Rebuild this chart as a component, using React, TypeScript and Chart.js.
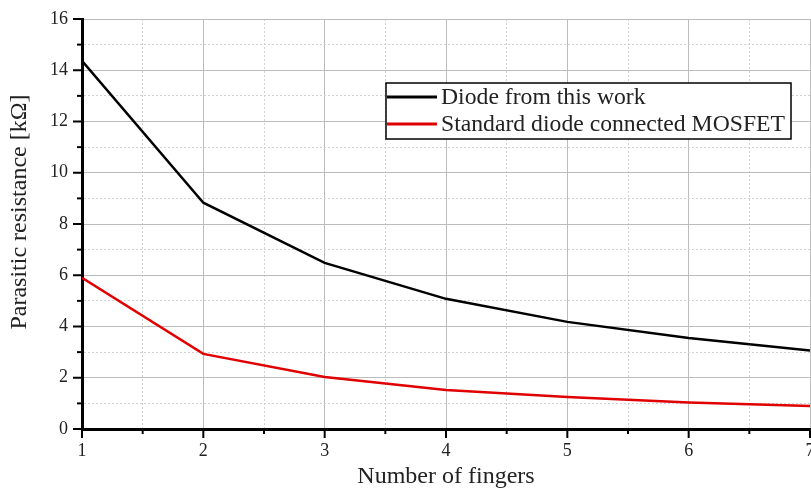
import React, { useEffect, useRef } from 'react';
import { Chart, registerables } from 'chart.js';

Chart.register(...registerables);

// Parasitic resistance versus number of fingers
const fingers = [1, 2, 3, 4, 5, 6, 7];
const diodeThisWork = [14.37, 8.83, 6.48, 5.08, 4.18, 3.55, 3.06];
const diodeMosfet = [5.9, 2.93, 2.03, 1.52, 1.25, 1.03, 0.9];

const seriesLabels = ['Diode from this work', 'Standard diode connected MOSFET'];
const seriesColors = ['#000000', '#e10000'];

const xTickLabels = ['1', '2', '3', '4', '5', '6', '7'];
const yTickLabels = ['0', '2', '4', '6', '8', '10', '12', '14', '16'];
const xMinorStep = 0.5;
const yMinorStep = 1;

const xTitle = 'Number of fingers';
const yTitle = 'Parasitic resistance [kΩ]';

const FONT = '"Liberation Serif", "Times New Roman", serif';

const isMajor = (v: number, labels: string[]) => labels.includes(String(v));

// All tick values (major + minor) between the first and last labelled value
function tickValues(labels: string[], step: number) {
  const nums = labels.map(Number);
  const lo = Math.min(...nums);
  const hi = Math.max(...nums);
  const out: { value: number }[] = [];
  const n = Math.round((hi - lo) / step);
  for (let i = 0; i <= n; i++) out.push({ value: +(lo + i * step).toFixed(6) });
  return out;
}

// Outward tick marks (long for labelled values, short for minor ones) and the y title
const axisDecor = {
  id: 'axisDecor',
  afterDraw(chart: any) {
    const ctx = chart.ctx;
    const area = chart.chartArea;
    ctx.save();
    ctx.strokeStyle = '#000';
    ctx.lineWidth = 2;
    const xs = chart.scales.x;
    xs.ticks.forEach((t: any) => {
      const px = xs.getPixelForValue(t.value);
      const len = isMajor(t.value, xTickLabels) ? 9 : 5;
      ctx.beginPath();
      ctx.moveTo(px, area.bottom);
      ctx.lineTo(px, area.bottom + len);
      ctx.stroke();
    });
    const ys = chart.scales.y;
    ys.ticks.forEach((t: any) => {
      const py = ys.getPixelForValue(t.value);
      const len = isMajor(t.value, yTickLabels) ? 9 : 5;
      ctx.beginPath();
      ctx.moveTo(area.left, py);
      ctx.lineTo(area.left - len, py);
      ctx.stroke();
    });

    ctx.translate(20, 212);
    ctx.rotate(-Math.PI / 2);
    ctx.font = `24px ${FONT}`;
    ctx.fillStyle = '#222';
    ctx.textAlign = 'center';
    ctx.textBaseline = 'middle';
    ctx.fillText(yTitle, 0, 0);
    ctx.restore();
  },
};

// Framed legend box inside the plot area
const boxLegend = {
  id: 'boxLegend',
  afterDatasetsDraw(chart: any) {
    const ctx = chart.ctx;
    const left = 386;
    const top = 83;
    const width = 405;
    const height = 56;
    ctx.save();
    ctx.fillStyle = '#ffffff';
    ctx.fillRect(left, top, width, height);
    ctx.strokeStyle = '#000';
    ctx.lineWidth = 1.5;
    ctx.strokeRect(left, top, width, height);
    ctx.font = `23.7px ${FONT}`;
    ctx.textBaseline = 'middle';
    ctx.textAlign = 'left';
    chart.data.datasets.forEach((ds: any, i: number) => {
      const y = top + 14 + i * 27;
      ctx.strokeStyle = ds.borderColor;
      ctx.lineWidth = 3;
      ctx.beginPath();
      ctx.moveTo(left + 1, y);
      ctx.lineTo(left + 51, y);
      ctx.stroke();
      ctx.fillStyle = '#222';
      ctx.fillText(ds.label, left + 55, y + 1);
    });
    ctx.restore();
  },
};

export default function App() {
  const canvasRef = useRef<HTMLCanvasElement | null>(null);

  useEffect(() => {
    if (!canvasRef.current) return;
    const chart = new Chart(canvasRef.current, {
      type: 'line',
      data: {
        datasets: [
          {
            label: seriesLabels[0],
            data: fingers.map((f, i) => ({ x: f, y: diodeThisWork[i] })),
            borderColor: seriesColors[0],
            borderWidth: 2.5,
            pointRadius: 0,
            tension: 0,
          },
          {
            label: seriesLabels[1],
            data: fingers.map((f, i) => ({ x: f, y: diodeMosfet[i] })),
            borderColor: seriesColors[1],
            borderWidth: 2.5,
            pointRadius: 0,
            tension: 0,
          },
        ],
      },
      options: {
        animation: false,
        responsive: false,
        devicePixelRatio: 1,
        layout: { padding: { top: 19, right: 1, left: 0, bottom: 0 } },
        plugins: {
          legend: { display: false },
          tooltip: { enabled: false },
        },
        scales: {
          x: {
            type: 'linear',
            position: 'bottom',
            min: Number(xTickLabels[0]),
            max: Number(xTickLabels[xTickLabels.length - 1]),
            afterBuildTicks: (s: any) => {
              s.ticks = tickValues(xTickLabels, xMinorStep);
            },
            afterFit: (s: any) => {
              s.height = 62;
              s.paddingLeft = 0;
              s.paddingRight = 0;
            },
            ticks: {
              autoSkip: false,
              maxRotation: 0,
              padding: 11,
              color: '#222',
              font: { family: FONT, size: 18 },
              callback: (v: any) => (isMajor(v, xTickLabels) ? String(v) : ''),
            },
            grid: {
              drawTicks: false,
              color: (c: any) => (c.tick && isMajor(c.tick.value, xTickLabels) ? '#bcbcbc' : '#d2d2d2'),
              lineWidth: 1,
            },
            border: {
              color: '#000',
              width: 3,
              dash: (c: any) => (c.tick && !isMajor(c.tick.value, xTickLabels) ? [2, 2] : []),
            },
            title: {
              display: true,
              text: xTitle,
              color: '#222',
              font: { family: FONT, size: 24 },
              padding: { top: 0, bottom: 0 },
            },
          },
          y: {
            type: 'linear',
            min: Number(yTickLabels[0]),
            max: Number(yTickLabels[yTickLabels.length - 1]),
            afterBuildTicks: (s: any) => {
              s.ticks = tickValues(yTickLabels, yMinorStep);
            },
            afterFit: (s: any) => {
              s.width = 82;
              s.paddingTop = 0;
              s.paddingBottom = 0;
            },
            ticks: {
              autoSkip: false,
              padding: 14,
              color: '#222',
              font: { family: FONT, size: 18 },
              callback: (v: any) => (isMajor(v, yTickLabels) ? String(v) : ''),
            },
            grid: {
              drawTicks: false,
              color: (c: any) => (c.tick && isMajor(c.tick.value, yTickLabels) ? '#bcbcbc' : '#d2d2d2'),
              lineWidth: 1,
            },
            border: {
              color: '#000',
              width: 3,
              dash: (c: any) => (c.tick && !isMajor(c.tick.value, yTickLabels) ? [2, 2] : []),
            },
            title: { display: false },
          },
        },
      },
      plugins: [axisDecor, boxLegend],
    } as any);
    return () => chart.destroy();
  }, []);

  return (
    <div style={{ position: 'absolute', left: 0, top: 0, width: 811, height: 491, background: '#fff' }}>
      <canvas ref={canvasRef} width={811} height={491} />
    </div>
  );
}
